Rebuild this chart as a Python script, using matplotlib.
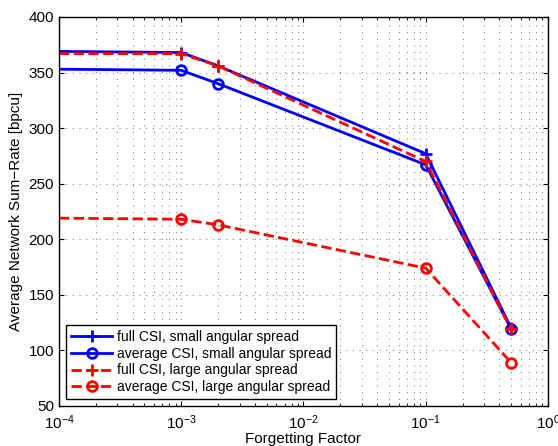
import matplotlib
matplotlib.use("Agg")
import matplotlib.pyplot as plt
import numpy as np

plt.rcParams['font.family'] = ['Liberation Sans', 'DejaVu Sans']
plt.rcParams['mathtext.fontset'] = 'custom'
plt.rcParams['mathtext.rm'] = 'Liberation Sans'

# forgetting factor values (first point has no marker)
ff = [1e-4, 1e-3, 2e-3, 1e-1, 5e-1]

full_small = [369, 368, 356, 277, 120]
avg_small = [353, 352, 340, 267, 119]
full_large = [367, 367, 356, 270, 119]
avg_large = [219, 218, 213, 174, 89]

labels = ['full CSI, small angular spread',
          'average CSI, small angular spread',
          'full CSI, large angular spread',
          'average CSI, large angular spread']

fig = plt.figure(figsize=(5.58, 4.46), dpi=100)
ax = fig.add_axes([0.1057, 0.0897, 0.8763, 0.8723])

mk = list(range(1, len(ff)))
ax.plot(ff, full_small, '-', color='blue', lw=2, marker='+', ms=9, mew=2, markevery=mk, label=labels[0])
ax.plot(ff, avg_small, '-', color='blue', lw=2, marker='o', ms=7, mew=2, mfc='none', markevery=mk, label=labels[1])
ax.plot(ff, full_large, '--', color='red', lw=2, marker='+', ms=9, mew=2, markevery=mk, label=labels[2])
ax.plot(ff, avg_large, '--', color='red', lw=2, marker='o', ms=7, mew=2, mfc='none', markevery=mk, label=labels[3])

ax.set_xscale('log')
ax.set_xlim(1e-4, 1)
ax.set_ylim(50, 400)
ax.set_yticks(np.arange(50, 401, 50))
ax.set_xticks([1e-4, 1e-3, 1e-2, 1e-1, 1])
ax.tick_params(which='both', direction='in', top=True, right=True, labelsize=11)
ax.tick_params(axis='x', pad=5)
ax.grid(True, which='both', color='#555555', linestyle=(0, (1, 5)), linewidth=0.8, alpha=0.7)
for s in ax.spines.values():
    s.set_linewidth(1)

ax.set_xlabel('Forgetting Factor', fontsize=11, labelpad=0)
ax.set_ylabel('Average Network Sum\u2212Rate [bpcu]', fontsize=11)

leg = ax.legend(loc='lower left', fontsize=10, fancybox=False, framealpha=1,
                edgecolor='black', handlelength=3, borderpad=0.35, labelspacing=0.2,
                handletextpad=0.3)
leg.get_frame().set_linewidth(1)

fig.savefig('out.png', dpi=100)
